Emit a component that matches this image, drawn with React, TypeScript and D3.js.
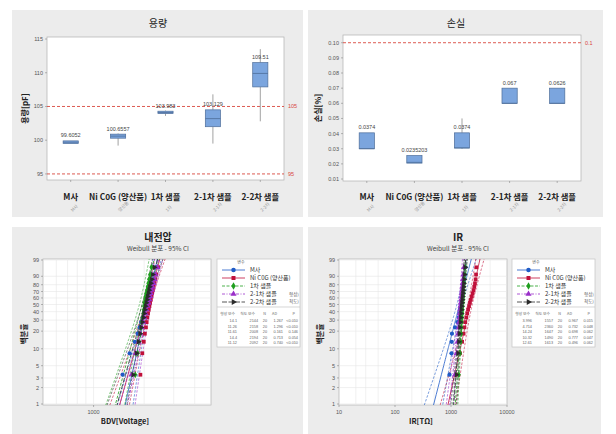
import React from "react";
import * as d3 from "d3";

// ---------- Box plot data ----------
const categories = ["M사", "Ni C0G (양산품)", "1차 샘플", "2-1차 샘플", "2-2차 샘플"];
const subLabels = ["M사", "양산품", "1차", "2-1차", "2-2차"];

const capMin = [99.5, 99.2, 103.6, 99.5, 102.8];
const capQ1 = [99.5, 100.3, 103.95, 102.0, 107.9];
const capMed = [99.7, 100.6, 104.1, 103.2, 109.9];
const capQ3 = [99.9, 100.9, 104.3, 104.5, 111.5];
const capMax = [99.9, 101.0, 104.4, 106.8, 113.5];
const capLabels = ["99.6052", "100.6557", "103.983", "103.129", "109.51"];
const capTicks = [95, 100, 105, 110, 115];
const capRefs = [105, 95];

const lossMin = [0.03, 0.0205, 0.03, 0.06, 0.06];
const lossQ1 = [0.03, 0.0205, 0.0305, 0.06, 0.06];
const lossMed = [0.03, 0.021, 0.0305, 0.06, 0.06];
const lossQ3 = [0.0405, 0.0255, 0.0405, 0.07, 0.07];
const lossMax = [0.0405, 0.0255, 0.05, 0.07, 0.07];
const lossLabels = ["0.0374", "0.0235203", "0.0374", "0.067", "0.0626"];
const lossTicks = [0.01, 0.02, 0.03, 0.04, 0.05, 0.06, 0.07, 0.08, 0.09, 0.1];
const lossRefs = [0.1];

// ---------- Weibull data ----------
const seriesNames = ["M사", "Ni C0G (양산품)", "1차 샘플", "2-1차 샘플", "2-2차 샘플"];
const seriesColors = ["#1f5bc6", "#c0103a", "#1e9e1e", "#9a2fc9", "#2b2b2b"];

const bdvM = [1490, 1640, 1760, 1830, 1880, 1920, 1960, 1990, 2020, 2050, 2070, 2100, 2120, 2150, 2170, 2200, 2230, 2260, 2290, 2340];
const bdvNi = [1900, 1950, 1990, 2020, 2050, 2070, 2090, 2110, 2130, 2150, 2170, 2190, 2210, 2230, 2250, 2270, 2300, 2330, 2360, 2420];
const bdv1 = [1770, 1830, 1870, 1900, 1920, 1940, 1960, 1980, 1990, 2000, 2010, 2030, 2040, 2060, 2080, 2100, 2120, 2140, 2170, 2210];
const bdv21 = [1680, 1780, 1850, 1900, 1940, 1980, 2010, 2040, 2070, 2100, 2130, 2150, 2180, 2200, 2230, 2250, 2280, 2310, 2340, 2400];
const bdv22 = [1720, 1800, 1850, 1890, 1920, 1950, 1980, 2000, 2020, 2040, 2060, 2080, 2100, 2120, 2140, 2160, 2190, 2220, 2250, 2300];
const bdvShape = [14.1, 11.26, 11.61, 14.4, 11.12];
const bdvScale = [2144, 2158, 2008, 2194, 2092];
const bdvAD = ["1.267", "1.296", "0.161", "0.713", "0.740"];
const bdvP = ["<0.010", "<0.010", "0.146", "0.054", "<0.010"];

const irM = [940, 1020, 1030, 1040, 1180, 1300, 1380, 1420, 1460, 1500, 1530, 1560, 1590, 1610, 1640, 1660, 1690, 1720, 1760, 1820];
const irNi = [1250, 1450, 1580, 1680, 1740, 1800, 1880, 1950, 2020, 2100, 2180, 2260, 2350, 2430, 2520, 2600, 2680, 2750, 2800, 2850];
const ir1 = [1380, 1450, 1490, 1520, 1540, 1560, 1580, 1600, 1610, 1620, 1640, 1650, 1660, 1680, 1700, 1710, 1730, 1750, 1770, 1800];
const ir21 = [1180, 1260, 1310, 1340, 1370, 1390, 1410, 1430, 1450, 1470, 1490, 1510, 1530, 1550, 1570, 1590, 1610, 1630, 1660, 1700];
const ir22 = [1250, 1330, 1380, 1410, 1440, 1470, 1490, 1510, 1530, 1550, 1570, 1590, 1610, 1630, 1650, 1670, 1690, 1710, 1740, 1780];
const irShape = [3.996, 4.714, 14.24, 10.32, 12.61];
const irScale = [1557, 2360, 1647, 1490, 1613];
const irAD = ["0.967", "0.732", "0.698", "0.777", "0.496"];
const irP = ["0.015", "0.048", "0.062", "0.047", "0.062"];

const probTicks = [1, 2, 3, 5, 10, 20, 30, 40, 50, 60, 70, 80, 90, 99];

const FONT = "'Liberation Sans', 'Noto Sans CJK KR', sans-serif";
const KFONT = "'Noto Sans CJK KR', 'Liberation Sans', sans-serif";
const BG = "#ececec";

type BoxProps = {
  px0: number; px1: number; py0: number; py1: number;
  dom: [number, number]; ticks: number[]; fmt: (v: number) => string;
  refs: number[]; refFmt: (v: number) => string;
  mins: number[]; q1: number[]; med: number[]; q3: number[]; maxs: number[];
  labels: string[]; title: string; yLabel: string; titleX: number; yLabelX: number;
};

function BoxPanel(p: BoxProps) {
  const x = d3.scaleBand<string>().domain(categories).range([p.px0, p.px1]);
  const y = d3.scaleLinear().domain(p.dom).range([p.py1, p.py0]);
  const bw = x.bandwidth() * 0.32;
  return (
    <g>
      <text x={p.titleX} y={27} textAnchor="middle" fontFamily={KFONT} fontSize={10} fill="#222">{p.title}</text>
      <rect x={p.px0} y={p.py0} width={p.px1 - p.px0} height={p.py1 - p.py0} fill="#fff" stroke="#b8b8b8" strokeWidth={0.8} />
      {p.ticks.map((t) => (
        <g key={t}>
          <line x1={p.px0 - 2} x2={p.px0} y1={y(t)} y2={y(t)} stroke="#888" strokeWidth={0.6} />
          <text x={p.px0 - 4} y={y(t) + 2} textAnchor="end" fontFamily={FONT} fontSize={5.5} fill="#555">{p.fmt(t)}</text>
        </g>
      ))}
      <text transform={`translate(${p.yLabelX},${(p.py0 + p.py1) / 2}) rotate(-90)`} textAnchor="middle" fontFamily={KFONT} fontSize={8} fontWeight="bold" fill="#222">{p.yLabel}</text>
      {p.refs.map((r) => (
        <g key={r}>
          <line x1={p.px0} x2={p.px1} y1={y(r)} y2={y(r)} stroke="#d8473e" strokeWidth={0.9} strokeDasharray="3,2" />
          <text x={p.px1 + 4} y={y(r) + 2} fontFamily={FONT} fontSize={5.5} fill="#d8473e">{p.refFmt(r)}</text>
        </g>
      ))}
      {categories.map((c, i) => {
        const cx = (x(c) as number) + x.bandwidth() / 2;
        return (
          <g key={c}>
            <line x1={cx} x2={cx} y1={y(p.maxs[i])} y2={y(p.q3[i])} stroke="#8a8a8a" strokeWidth={0.8} />
            <line x1={cx} x2={cx} y1={y(p.q1[i])} y2={y(p.mins[i])} stroke="#8a8a8a" strokeWidth={0.8} />
            <rect x={cx - bw / 2} y={y(p.q3[i])} width={bw} height={Math.max(1.5, y(p.q1[i]) - y(p.q3[i]))} fill="#7ba5de" stroke="#4d6d99" strokeWidth={0.7} />
            <line x1={cx - bw / 2} x2={cx + bw / 2} y1={y(p.med[i])} y2={y(p.med[i])} stroke="#4d6d99" strokeWidth={0.8} />
            <text x={cx} y={y(p.q3[i]) - 3.5} textAnchor="middle" fontFamily={FONT} fontSize={5.5} fill="#444">{p.labels[i]}</text>
            <line x1={cx} x2={cx} y1={p.py1} y2={p.py1 + 2} stroke="#888" strokeWidth={0.6} />
            <text x={cx} y={200} textAnchor="middle" fontFamily={KFONT} fontSize={8.3} fontWeight="bold" fill="#222">{c}</text>
            <text transform={`translate(${cx + 2},${212}) rotate(-45)`} textAnchor="start" fontFamily={KFONT} fontSize={4.5} fill="#999">{subLabels[i]}</text>
          </g>
        );
      })}
    </g>
  );
}

const wy = (p: number) => Math.log(-Math.log(1 - p));

type WProps = {
  px0: number; px1: number; py0: number; py1: number;
  dom: [number, number]; ticks: number[]; grid: number[];
  data: number[][]; shapes: number[]; scales: number[]; ad: string[]; pv: string[];
  title: string; xLabel: string; cx: number; lx: number; id: string;
};

const symbolTypes = [d3.symbolCircle, d3.symbolSquare, d3.symbolDiamond, d3.symbolTriangle, d3.symbolTriangle];
const symbolRot = [0, 0, 0, 0, 90];
const dashes = ["", "", "3,1.5", "3,1.5,1,1.5", "5,1.5"];

function WeibullPanel(p: WProps) {
  const x = d3.scaleLog().domain(p.dom).range([p.px0, p.px1]);
  const y = d3.scaleLinear().domain([wy(0.01), wy(0.99)]).range([p.py1 - 1, p.py0 + 1]);
  const probs = d3.range(0.005, 0.996, 0.005);
  const line = d3.line<[number, number]>().x((d) => x(d[0])).y((d) => y(d[1]));
  const z = 1.96;
  const n = 20;
  const fitPath = (k: number, side: number) => {
    const pts: [number, number][] = probs.map((pr) => {
      const u = wy(pr);
      const s = 1 / p.shapes[k];
      const se = (s / Math.sqrt(n)) * Math.sqrt(1.1087 + 0.514 * u + 0.6079 * u * u);
      const lx = Math.log(p.scales[k]) + u * s + side * z * se;
      return [Math.exp(lx), u];
    });
    return line(pts) || "";
  };
  const lgX = p.lx;
  const lgTop = 259;
  return (
    <g>
      <defs>
        <clipPath id={p.id}>
          <rect x={p.px0} y={p.py0} width={p.px1 - p.px0} height={p.py1 - p.py0} />
        </clipPath>
      </defs>
      <text x={p.cx} y={241} textAnchor="middle" fontFamily={KFONT} fontSize={10} fontWeight="bold" fill="#222">{p.title}</text>
      <text x={p.cx} y={251} textAnchor="middle" fontFamily={KFONT} fontSize={6.5} fill="#444">Weibull 분포 - 95% CI</text>
      <rect x={p.px0} y={p.py0} width={p.px1 - p.px0} height={p.py1 - p.py0} fill="#fff" stroke="#b8b8b8" strokeWidth={0.8} />
      {p.grid.map((g) => (
        <line key={"g" + g} x1={x(g)} x2={x(g)} y1={p.py0} y2={p.py1} stroke="#e6e6e6" strokeWidth={0.6} />
      ))}
      {probTicks.map((t) => (
        <g key={t}>
          <line x1={p.px0} x2={p.px1} y1={y(wy(t / 100))} y2={y(wy(t / 100))} stroke="#e6e6e6" strokeWidth={0.6} />
          <line x1={p.px0 - 2} x2={p.px0} y1={y(wy(t / 100))} y2={y(wy(t / 100))} stroke="#888" strokeWidth={0.6} />
          <text x={p.px0 - 4} y={y(wy(t / 100)) + 2} textAnchor="end" fontFamily={FONT} fontSize={5.5} fill="#555">{t}</text>
        </g>
      ))}
      {p.ticks.map((t) => (
        <g key={"x" + t}>
          <line x1={x(t)} x2={x(t)} y1={p.py1} y2={p.py1 + 2} stroke="#888" strokeWidth={0.6} />
          <text x={x(t)} y={p.py1 + 9} textAnchor="middle" fontFamily={FONT} fontSize={5.5} fill="#555">{t}</text>
        </g>
      ))}
      <text x={(p.px0 + p.px1) / 2 - 2} y={424} textAnchor="middle" fontFamily={KFONT} fontSize={7.5} fontWeight="bold" fill="#222">{p.xLabel}</text>
      <text transform={`translate(${p.px0 - 16},${334}) rotate(-90)`} textAnchor="middle" fontFamily={KFONT} fontSize={7.5} fontWeight="bold" fill="#222">백분율</text>
      <g clipPath={`url(#${p.id})`}>
        {p.data.map((_, k) => (
          <g key={"f" + k}>
            <path d={fitPath(k, -1)} fill="none" stroke={seriesColors[k]} strokeWidth={0.6} strokeDasharray="2.5,1.5" />
            <path d={fitPath(k, 1)} fill="none" stroke={seriesColors[k]} strokeWidth={0.6} strokeDasharray="2.5,1.5" />
            <path d={fitPath(k, 0)} fill="none" stroke={seriesColors[k]} strokeWidth={0.8} strokeDasharray={dashes[k]} />
          </g>
        ))}
        {p.data.map((arr, k) =>
          arr.map((v, i) => {
            const pr = (i + 1 - 0.3) / (arr.length + 0.4);
            const sym = d3.symbol().type(symbolTypes[k]).size(14)() || "";
            return (
              <path key={k + "-" + i} d={sym} transform={`translate(${x(v)},${y(wy(pr))}) rotate(${symbolRot[k]})`} fill={seriesColors[k]} />
            );
          })
        )}
      </g>
      {/* legend */}
      <rect x={lgX} y={lgTop} width={83} height={88} fill="#fff" stroke="#c4c4c4" strokeWidth={0.7} />
      <text x={lgX + 24} y={lgTop + 5} textAnchor="middle" fontFamily={KFONT} fontSize={4} fill="#666">변수</text>
      {seriesNames.map((s, k) => {
        const ly = lgTop + 11 + k * 8;
        const sym = d3.symbol().type(symbolTypes[k]).size(16)() || "";
        return (
          <g key={s}>
            <line x1={lgX + 5} x2={lgX + 28} y1={ly} y2={ly} stroke={seriesColors[k]} strokeWidth={0.8} strokeDasharray={dashes[k]} />
            <path d={sym} transform={`translate(${lgX + 16.5},${ly}) rotate(${symbolRot[k]})`} fill={seriesColors[k]} />
            <text x={lgX + 33} y={ly + 2.2} fontFamily={KFONT} fontSize={6} fill="#333">{s}</text>
          </g>
        );
      })}
      <text x={lgX + 72} y={lgTop + 37} fontFamily={KFONT} fontSize={4.5} fill="#555">형상)</text>
      <text x={lgX + 72} y={lgTop + 44} fontFamily={KFONT} fontSize={4.5} fill="#555">척도)</text>
      <line x1={lgX} x2={lgX + 83} y1={lgTop + 48} y2={lgTop + 48} stroke="#c4c4c4" strokeWidth={0.7} />
      {["형상 모수", "척도 모수", "N", "AD", "P"].map((h, j) => (
        <text key={h} x={lgX + [18, 38, 49, 60, 78][j]} y={lgTop + 56} textAnchor="end" fontFamily={KFONT} fontSize={3.8} fill="#666">{h}</text>
      ))}
      {seriesNames.map((s, k) => {
        const ry = lgTop + 63 + k * 5.6;
        const vals = [p.shapes[k].toString(), String(p.scales[k]), "20", p.ad[k], p.pv[k]];
        return (
          <g key={"r" + s}>
            {vals.map((v, j) => (
              <text key={j} x={lgX + [20, 41, 50, 66, 81][j]} y={ry} textAnchor="end" fontFamily={FONT} fontSize={3.8} fill="#666">{v}</text>
            ))}
          </g>
        );
      })}
    </g>
  );
}

export default function App() {
  return (
    <svg width={616} height={434} style={{ position: "absolute", left: 0, top: 0 }} xmlns="http://www.w3.org/2000/svg">
      <rect x={0} y={0} width={616} height={434} fill="#fff" />
      <rect x={12} y={10} width={291} height={207} fill={BG} />
      <rect x={308} y={10} width={295} height={207} fill={BG} />
      <rect x={12} y={227} width={291} height={207} fill={BG} />
      <rect x={308} y={227} width={293} height={207} fill={BG} />
      <BoxPanel px0={47} px1={284} py0={37} py1={180} dom={[94.1, 115.3]} ticks={capTicks} fmt={(v) => String(v)}
        refs={capRefs} refFmt={(v) => String(v)} mins={capMin} q1={capQ1} med={capMed} q3={capQ3} maxs={capMax}
        labels={capLabels} title="용량" yLabel="용량[pF]" titleX={158} yLabelX={28} />
      <BoxPanel px0={343} px1={581} py0={35} py1={181} dom={[0.0087, 0.1051]} ticks={lossTicks} fmt={d3.format(".2f")}
        refs={lossRefs} refFmt={(v) => String(v)} mins={lossMin} q1={lossQ1} med={lossMed} q3={lossQ3} maxs={lossMax}
        labels={lossLabels} title="손실" yLabel="손실[%]" titleX={456} yLabelX={321} />
      <WeibullPanel px0={43} px1={211} py0={259} py1={405} dom={[500, 5000]} ticks={[1000]}
        grid={[600, 700, 800, 900, 1000, 2000, 3000, 4000]} data={[bdvM, bdvNi, bdv1, bdv21, bdv22]}
        shapes={bdvShape} scales={bdvScale} ad={bdvAD} pv={bdvP} title="내전압" xLabel="BDV[Voltage]" cx={158} lx={217} id="clipBdv" />
      <WeibullPanel px0={339} px1={507} py0={259} py1={405} dom={[10, 10000]} ticks={[10, 100, 1000, 10000]}
        grid={[20, 30, 50, 100, 200, 300, 500, 1000, 2000, 3000, 5000]} data={[irM, irNi, ir1, ir21, ir22]}
        shapes={irShape} scales={irScale} ad={irAD} pv={irP} title="IR" xLabel="IR[TΩ]" cx={458} lx={512} id="clipIr" />
    </svg>
  );
}
